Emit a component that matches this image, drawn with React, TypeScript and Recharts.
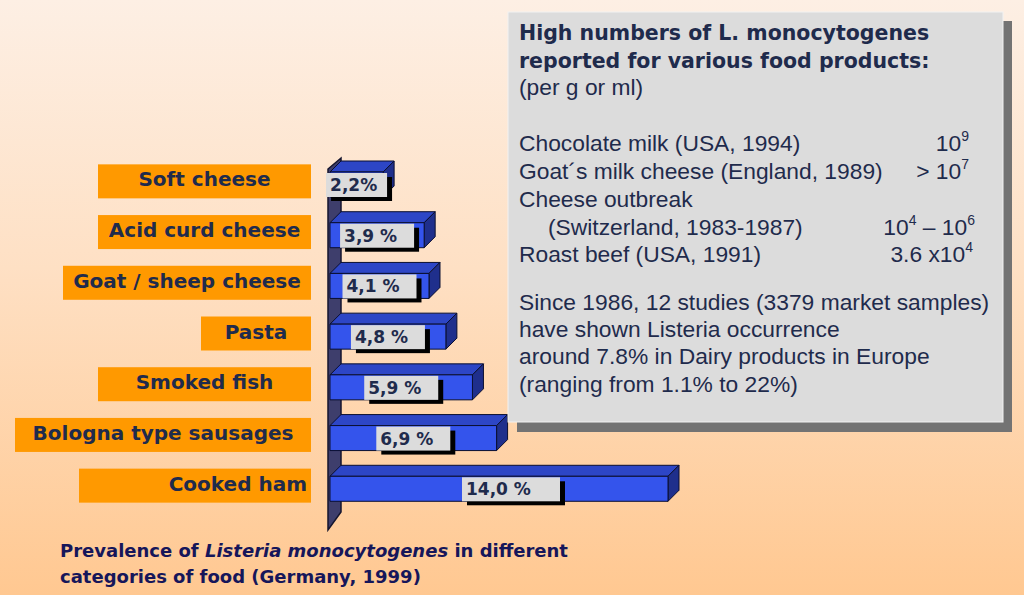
import React from 'react'
import { BarChart, Bar, XAxis, YAxis, LabelList } from 'recharts'

// Listeria prevalence in food categories (Germany, 1999)
const categories = [
  'Soft cheese',
  'Acid curd cheese',
  'Goat / sheep cheese',
  'Pasta',
  'Smoked fish',
  'Bologna type sausages',
  'Cooked ham',
]
const prevalence = [2.2, 3.9, 4.1, 4.8, 5.9, 6.9, 14.0]
const prevalenceLabels = ['2,2%', '3,9 %', '4,1 %', '4,8 %', '5,9 %', '6,9 %', '14,0 %']

const data = categories.map((name, i) => ({
  name,
  value: prevalence[i],
  label: prevalenceLabels[i],
}))

// layout
const W = 1024
const H = 595
const PLOT_LEFT = 330
const PLOT_RIGHT = 668
const PLOT_TOP = 159
const PLOT_BOTTOM = 514
const DEPTH = 11

// orange label boxes were sized by hand in the original slide
const LABEL_BOXES = [
  { w: 213, align: 'middle' },
  { w: 213, align: 'middle' },
  { w: 248, align: 'middle' },
  { w: 110, align: 'middle' },
  { w: 213, align: 'middle' },
  { w: 296, align: 'middle' },
  { w: 232, align: 'end' },
]

const NAVY = '#1f2b4c'

function Bar3D(props: any) {
  const { x, y, width, height } = props
  if (width == null || height == null) return null
  const d = DEPTH
  return (
    <g stroke="#0a0f30" strokeWidth={1} strokeLinejoin="round">
      <polygon
        points={`${x},${y} ${x + d},${y - d} ${x + width + d},${y - d} ${x + width},${y}`}
        fill="#2d46c6"
      />
      <polygon
        points={`${x + width},${y} ${x + width + d},${y - d} ${x + width + d},${y + height - d} ${x + width},${y + height}`}
        fill="#1f2f8c"
      />
      <rect x={x} y={y} width={width} height={height} fill="#3454ec" />
    </g>
  )
}

function ValueLabel(props: any) {
  const vb = props.viewBox || props
  const { x, y, width, height } = vb
  const value = String(props.value)
  if (x == null) return null
  const boxW = value.length <= 4 ? 61 : value.length === 5 ? 74 : 98
  const cx = x + width / 2
  const bx = cx - Math.min(37, boxW / 2)
  return (
    <g>
      <rect x={bx + 5} y={y + 5} width={boxW} height={height - 1} fill="#000" />
      <rect x={bx} y={y + 1} width={boxW} height={height - 1} fill="#dcdcdc" />
      <text
        x={bx + 4}
        y={y + 19}
        fontFamily="DejaVu Sans"
        fontWeight="bold"
        fontSize={17}
        fill={NAVY}
      >
        {value}
      </text>
    </g>
  )
}

function CategoryTick(props: any) {
  const { x, y, payload, index } = props
  const box = LABEL_BOXES[index] || LABEL_BOXES[0]
  const right = x
  const tx = box.align === 'end' ? right - 4 : right - box.w / 2
  return (
    <g>
      <rect x={right - box.w} y={y - 20} width={box.w} height={34} fill="#ff9900" />
      <text
        x={tx}
        y={y + 2}
        textAnchor={box.align}
        fontFamily="DejaVu Sans"
        fontWeight="bold"
        fontSize={20}
        fill={NAVY}
      >
        {payload.value}
      </text>
    </g>
  )
}

export default function App() {
  const wallFrontX = PLOT_LEFT - 2
  const wallBackX = PLOT_LEFT + DEPTH
  const wallPts = `${wallFrontX},${PLOT_TOP + 10} ${wallBackX},${PLOT_TOP - 1} ${wallBackX},${PLOT_BOTTOM - 2} ${wallFrontX},${PLOT_BOTTOM + 16}`

  const body = { fontFamily: 'Liberation Sans', fontSize: 22.8, fill: NAVY }
  const sup = { fontSize: 14 }

  return (
    <div
      style={{
        position: 'absolute',
        left: 0,
        top: 0,
        width: W,
        height: H,
        overflow: 'hidden',
        background: 'linear-gradient(to bottom, #fdefe4 0%, #fee0c4 45%, #ffc891 100%)',
      }}
    >
      {/* back wall of the 3D value axis */}
      <svg width={W} height={H} style={{ position: 'absolute', left: 0, top: 0 }}>
        <polygon points={wallPts} fill="#3e3e6c" stroke="#15152e" strokeWidth={1.5} />
      </svg>

      <div style={{ position: 'absolute', left: 0, top: 0 }}>
        <BarChart
          width={W}
          height={H}
          data={data}
          layout="vertical"
          margin={{ top: PLOT_TOP, right: W - PLOT_RIGHT, bottom: H - PLOT_BOTTOM, left: 0 }}
        >
          <XAxis type="number" domain={[0, 14]} hide />
          <YAxis
            type="category"
            dataKey="name"
            width={PLOT_LEFT}
            tickSize={0}
            tickMargin={19}
            axisLine={false}
            tickLine={false}
            interval={0}
            tick={<CategoryTick />}
          />
          <Bar dataKey="value" barSize={25} shape={<Bar3D />} isAnimationActive={false}>
            <LabelList dataKey="label" content={<ValueLabel />} />
          </Bar>
        </BarChart>
      </div>

      {/* text box and caption */}
      <svg width={W} height={H} style={{ position: 'absolute', left: 0, top: 0 }}>
        <rect x={517} y={21} width={495} height={411} fill="#737373" />
        <rect x={508} y={12} width={495} height={410} fill="#dcdcdc" stroke="#f2f2f2" />
        <text fontFamily="DejaVu Sans" fontWeight="bold" fontSize={20.5} fill={NAVY}>
          <tspan x={519} y={40}>High numbers of L. monocytogenes</tspan>
          <tspan x={519} y={68}>reported for various food products:</tspan>
        </text>
        <text {...body}>
          <tspan x={519} y={95}>(per g or ml)</tspan>
          <tspan x={519} y={151}>Chocolate milk (USA, 1994)</tspan>
          <tspan x={519} y={179}>Goat´s milk cheese (England, 1989)</tspan>
          <tspan x={519} y={207}>Cheese outbreak</tspan>
          <tspan x={548} y={235}>(Switzerland, 1983-1987)</tspan>
          <tspan x={519} y={262}>Roast beef (USA, 1991)</tspan>
          <tspan x={519} y={310}>Since 1986, 12 studies (3379 market samples)</tspan>
          <tspan x={519} y={337}>have shown Listeria occurrence</tspan>
          <tspan x={519} y={364}>around 7.8% in Dairy products in Europe</tspan>
          <tspan x={519} y={392}>(ranging from 1.1% to 22%)</tspan>
        </text>
        <text {...body} x={969} y={151} textAnchor="end">
          10<tspan dy={-10} {...sup}>9</tspan>
        </text>
        <text {...body} x={969} y={179} textAnchor="end">
          {'> 10'}<tspan dy={-10} {...sup}>7</tspan>
        </text>
        <text {...body} x={975} y={235} textAnchor="end">
          10<tspan dy={-10} {...sup}>4</tspan>
          <tspan dy={10}>{' – 10'}</tspan>
          <tspan dy={-10} {...sup}>6</tspan>
        </text>
        <text {...body} x={973} y={262} textAnchor="end">
          3.6 x10<tspan dy={-10} {...sup}>4</tspan>
        </text>

        <text fontFamily="DejaVu Sans" fontWeight="bold" fontSize={18} fill="#16165a">
          <tspan x={60} y={557}>Prevalence of </tspan>
          <tspan fontStyle="italic">Listeria monocytogenes</tspan>
          <tspan> in different</tspan>
          <tspan x={60} y={583}>categories of food (Germany, 1999)</tspan>
        </text>
      </svg>
    </div>
  )
}
